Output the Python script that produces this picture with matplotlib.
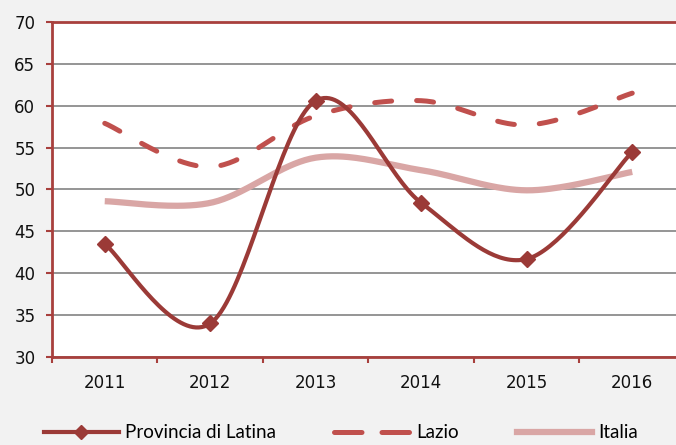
import matplotlib.pyplot as plt
import numpy as np

years = ['2011', '2012', '2013', '2014', '2015', '2016']
latina = [43.5, 34.0, 60.6, 48.4, 41.7, 54.5]
lazio = [57.9, 52.7, 58.8, 60.6, 57.7, 61.5]
italia = [48.6, 48.4, 53.8, 52.3, 49.9, 52.1]

c_latina = '#9B3A37'
c_lazio = '#C0504D'
c_italia = '#D9A6A5'
c_axis = '#A8403D'


def smooth(y, n=40):
    # Excel-like smoothed line: cubic Bezier with Catmull-Rom tangents (1/6)
    x = np.arange(len(y), dtype=float)
    p = np.column_stack([x, np.asarray(y, dtype=float)])
    pts = [p[0]]
    t = np.linspace(0, 1, n)[1:, None]
    for i in range(len(p) - 1):
        p0 = p[max(i - 1, 0)]
        p1, p2 = p[i], p[i + 1]
        p3 = p[min(i + 2, len(p) - 1)]
        c1 = p1 + (p2 - p0) / 6
        c2 = p2 - (p3 - p1) / 6
        seg = ((1 - t) ** 3 * p1 + 3 * (1 - t) ** 2 * t * c1
               + 3 * (1 - t) * t ** 2 * c2 + t ** 3 * p2)
        pts.extend(seg)
    pts = np.array(pts)
    return pts[:, 0], pts[:, 1]


fig = plt.figure(figsize=(6.76, 4.45), dpi=100, facecolor='#F2F2F2')
ax = fig.add_axes([52 / 676, 0.1978, 633 / 676, 0.7528])
ax.set_facecolor('white')
plt.rcParams['font.family'] = ['Lato', 'DejaVu Sans']

lazio_dash = (3.4, 5.0)

xs, ys = smooth(italia)
ax.plot(xs, ys, color=c_italia, lw=4.5, solid_capstyle='butt', zorder=2)
xs, ys = smooth(lazio)
ax.plot(xs, ys, color=c_lazio, lw=3.6, dashes=lazio_dash, dash_capstyle='round', zorder=3)
xs, ys = smooth(latina)
ax.plot(xs, ys, color=c_latina, lw=3.0, zorder=4)
x = np.arange(len(years))
ax.plot(x, latina, ls='none', marker='D', ms=8.5, color=c_latina, zorder=5)

ax.set_xlim(-0.5, 5.5)
ax.set_ylim(30, 70)
ax.set_yticks(range(30, 71, 5))
ax.set_xticks(x)
ax.set_xticklabels(years)
ax.set_xticks(np.arange(-0.5, 6, 1), minor=True)
ax.tick_params(axis='x', which='major', length=0, pad=12, labelsize=12, labelcolor='#111111')
ax.tick_params(axis='x', which='minor', length=4, width=1.5, color=c_axis)
ax.tick_params(axis='y', length=4, width=1.5, color=c_axis, pad=8, labelsize=12, labelcolor='#111111')
ax.grid(axis='y', color='#8C8C8C', lw=1.3)
ax.set_axisbelow(True)
for s in ax.spines.values():
    s.set_color(c_axis)
    s.set_linewidth(2)

h1, = plt.plot([], [], color=c_latina, lw=3.0, marker='D', ms=7)
h2, = plt.plot([], [], color=c_lazio, lw=3.6, dashes=(5.5, 4.0), dash_capstyle='round')
h3, = plt.plot([], [], color=c_italia, lw=4.5)
fig.legend([h1, h2, h3], ['Provincia di Latina', 'Lazio', 'Italia'],
           loc='center', bbox_to_anchor=(0.504, 0.027), ncol=3, frameon=False,
           handlelength=4.0, handletextpad=0.35, columnspacing=3.1, fontsize=13.5)

plt.savefig('out.png', dpi=100, facecolor=fig.get_facecolor())
